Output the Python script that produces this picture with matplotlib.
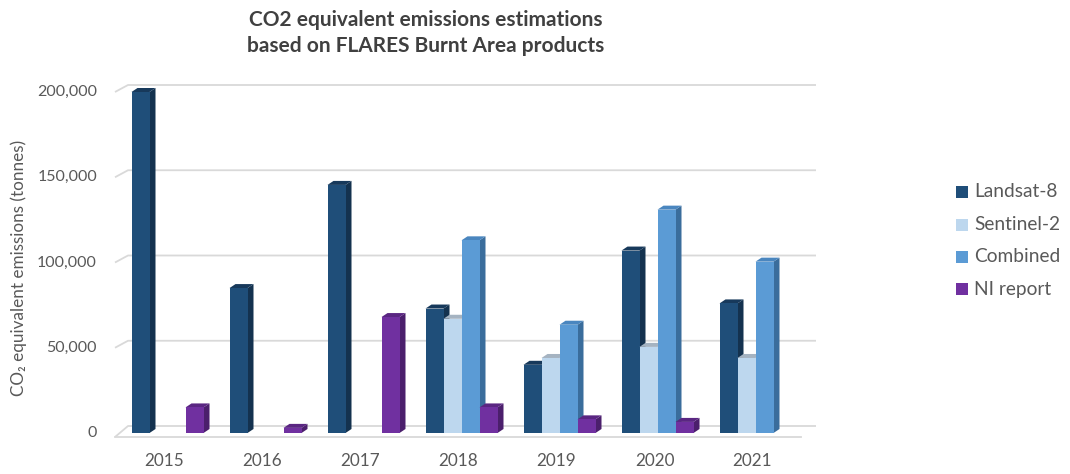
import numpy as np
import matplotlib
matplotlib.use("Agg")
import matplotlib.pyplot as plt
from matplotlib.patches import Polygon, Rectangle

# ---- data ----
years = ["2015", "2016", "2017", "2018", "2019", "2020", "2021"]
series_names = ["Landsat-8", "Sentinel-2", "Combined", "NI report"]
landsat8 = [200000, 85000, 145500, 73000, 40000, 107000, 76000]
sentinel2 = [np.nan, np.nan, np.nan, 67000, 44000, 50500, 44000]
combined = [np.nan, np.nan, np.nan, 113000, 63500, 131000, 100500]
ni_report = [15000, 3000, 68000, 15000, 8000, 6500, np.nan]
yticks = [0, 50000, 100000, 150000, 200000]

series = [landsat8, sentinel2, combined, ni_report]
# front, side, top colours per series
colors = [
    ("#1f4e79", "#14324f", "#17395b"),
    ("#bdd7ee", "#8fa9c2", "#a5b3c1"),
    ("#5b9bd5", "#3a6d9c", "#4a86bf"),
    ("#7030a0", "#4b1f6c", "#5a2682"),
]

FONT = ["Lato", "DejaVu Sans"]
plt.rcParams["font.family"] = FONT
TXT = "#595959"

W, H = 1070, 474
fig = plt.figure(figsize=(W / 100, H / 100), dpi=100)

# axes placement in pixels (from top-left)
ax_l, ax_r, ax_b, ax_t = 115, 801, 433, 92
ax = fig.add_axes([ax_l / W, (H - ax_b) / H, (ax_r - ax_l) / W, (ax_b - ax_t) / H])

spacing_px = 98.0
first_center_px = 167.5
xmin = (ax_l - first_center_px) / spacing_px
xmax = (ax_r - first_center_px) / spacing_px
ymax = 200000.0
ax.set_xlim(xmin, xmax)
ax.set_ylim(0, ymax)
ax.axis("off")

px_x = 1.0 / spacing_px                 # data units per pixel (x)
px_y = ymax / (ax_b - ax_t)             # data units per pixel (y)

# ---- walls: gridlines on side and back wall, plus front floor edge ----
wall_dx, wall_dy = 13 * px_x, 7 * px_y
floor_drop = -4 * px_y
back_right = (816 - first_center_px) / spacing_px
grid_col = "#d9d9d9"
for v in yticks:
    y0 = v + (floor_drop if v == 0 else 0)
    ax.plot([xmin, xmin + wall_dx, back_right], [y0, v + wall_dy, v + wall_dy],
            color=grid_col, lw=1.3, clip_on=False, zorder=1, solid_capstyle="butt")
ax.plot([xmin, xmax], [floor_drop, floor_drop], color=grid_col, lw=1.3,
        clip_on=False, zorder=1)

# ---- 3D clustered bars ----
bw = 18 * px_x
bdx, bdy = 6 * px_x, 4 * px_y
n = len(series)
z = 2
for i in range(len(years)):
    left0 = i - n * bw / 2
    for s in range(n):
        v = series[s][i]
        if v is None or np.isnan(v):
            continue
        x0 = left0 + s * bw
        x1 = x0 + bw
        front, side, top = colors[s]
        side_poly = Polygon([(x1, 0), (x1 + bdx, bdy), (x1 + bdx, v + bdy), (x1, v)],
                            closed=True, facecolor=side, edgecolor="none",
                            clip_on=False, zorder=z)
        top_poly = Polygon([(x0, v), (x0 + bdx, v + bdy), (x1 + bdx, v + bdy), (x1, v)],
                           closed=True, facecolor=top, edgecolor="none",
                           clip_on=False, zorder=z)
        ax.add_patch(side_poly)
        ax.add_patch(top_poly)
        ax.bar(x0, v, width=bw, align="edge", color=front, edgecolor="none",
               zorder=z + 0.5, clip_on=False)
        z += 1

# ---- tick labels ----
for v in yticks:
    ax.text(xmin - 18 * px_x, v, f"{v:,}", ha="right", va="center",
            fontsize=11.5, color=TXT, clip_on=False)
for i, yr in enumerate(years):
    ax.text(i - 3 * px_x, -28 * px_y, yr, ha="center", va="center",
            fontsize=12.3, color=TXT, clip_on=False)

fig.text(19 / W, 1 - 268 / H, "CO\u2082 equivalent emissions (tonnes)", rotation=90,
         ha="center", va="center", fontsize=12.3, color=TXT)

# ---- title ----
fig.text(426 / W, 1 - 33 / H,
         "CO2 equivalent emissions estimations\nbased on FLARES Burnt Area products",
         ha="center", va="center", fontsize=15, fontweight="bold", color="#404040",
         linespacing=1.35)

# ---- legend ----
leg_y = [192, 225, 257, 289]
for s, name in enumerate(series_names):
    fig.patches.append(Rectangle((956 / W, 1 - (leg_y[s] + 6) / H), 12 / W, 12 / H,
                                 transform=fig.transFigure, facecolor=colors[s][0],
                                 edgecolor="none"))
    fig.text(974 / W, 1 - leg_y[s] / H, name, ha="left", va="center",
             fontsize=13.8, color=TXT)

fig.savefig("out.png", dpi=100, facecolor="white")
